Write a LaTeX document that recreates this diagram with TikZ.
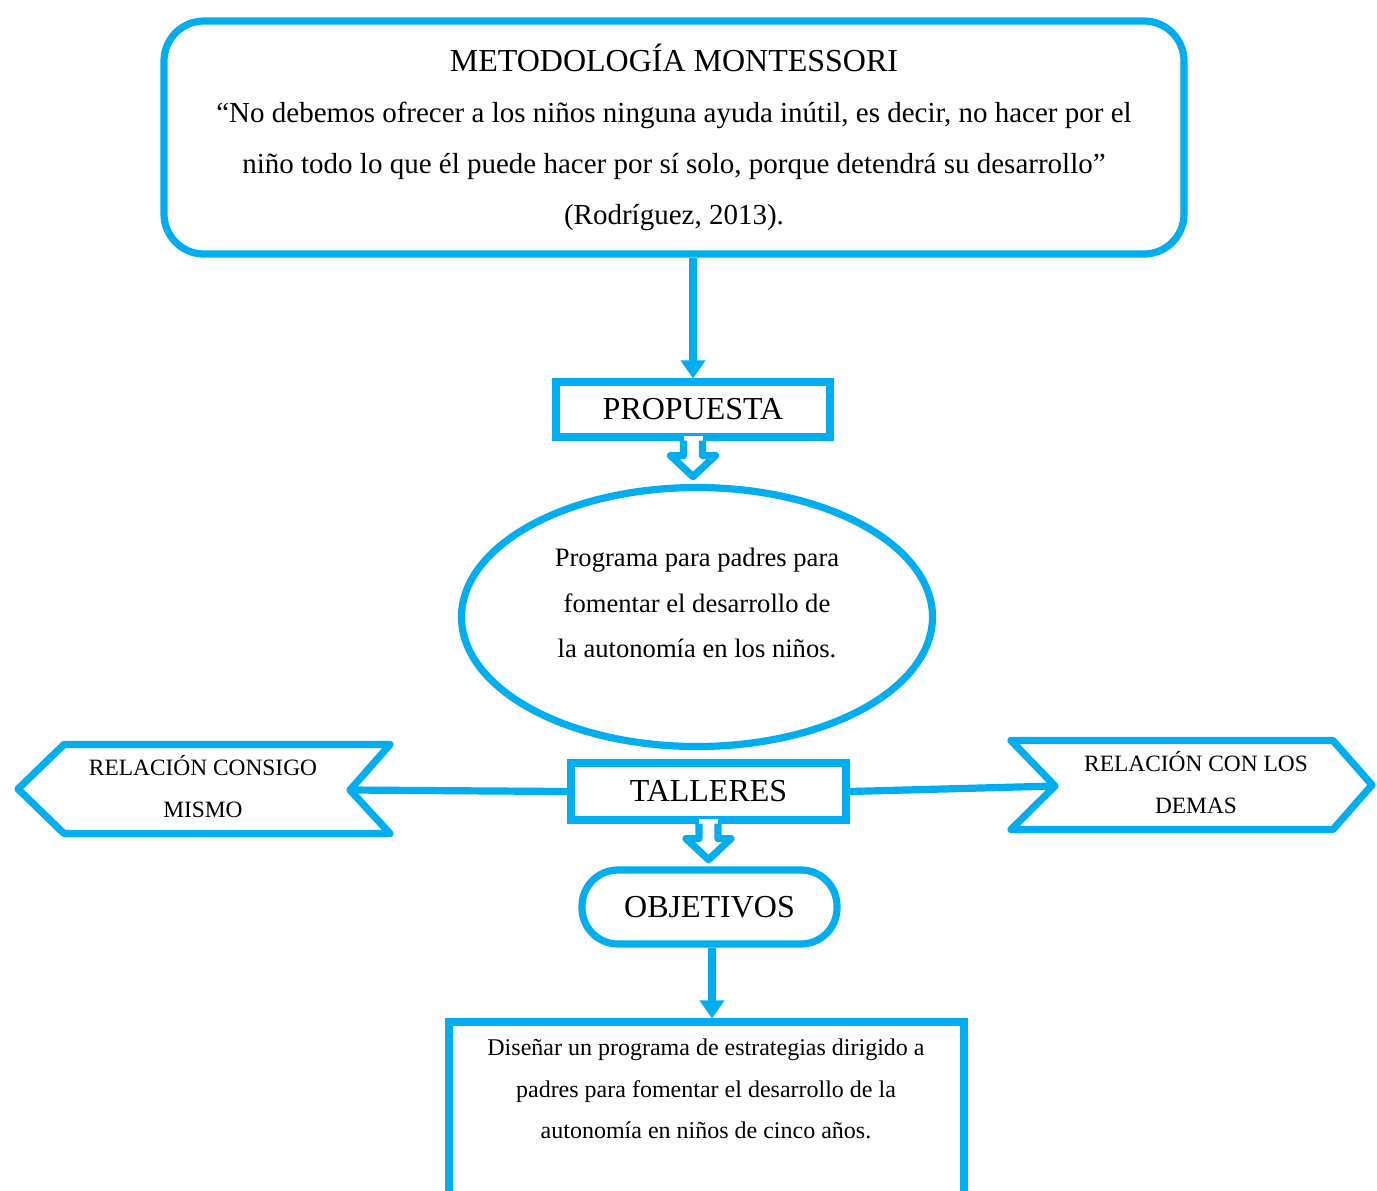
\documentclass[tikz,border=0pt]{standalone}
\usepackage{fontspec}
\setmainfont{Liberation Serif}
\usetikzlibrary{calc,arrows.meta,shapes.geometric}
\definecolor{cy}{HTML}{00AEEF}
\begin{document}
\begin{tikzpicture}[x=0.5pt,y=-0.5pt,
  line/.style={draw=cy,line width=3.6pt},
  box/.style={line,rectangle,inner sep=0pt},
  arr/.style={line,-{Triangle[width=12pt,length=9pt]}},
  notch/.style={line,line join=round}
]
\useasboundingbox (0,0) rectangle (1377,1190);
\clip (0,0) rectangle (1377,1190);

% top box
\node[box,rounded corners=20pt,minimum width=510pt,minimum height=116.5pt,align=center,
  font=\fontsize{14.5}{25.5}\selectfont] (top) at (674,137.5)
  {\fontsize{16}{25.5}\selectfont METODOLOGÍA MONTESSORI\\
   \fontsize{14.5}{25.5}\selectfont “No debemos ofrecer a los niños ninguna ayuda inútil, es decir, no hacer por el\\
   niño todo lo que él puede hacer por sí solo, porque detendrá su desarrollo”\\
   (Rodríguez, 2013).};

% propuesta
\node[box,minimum width=137pt,minimum height=27.5pt,font=\fontsize{16}{19}\selectfont] (prop) at (693,409.5) {PROPUESTA};
\draw[arr] (top.south -| prop.north) -- (prop.north);

\fill[white] ($(prop.south)+(-9.5,-4.5)$) rectangle ($(prop.south)+(9.5,4.5)$);
\draw[notch] ($(prop.south)+(-9.5,0)$) -- ++(0,15) -- ++(-13,0) -- ++(22.5,21) -- ++(22.5,-21) -- ++(-13,0) -- ++(0,-15);

% ellipse
\node[line,ellipse,minimum width=235.5pt,minimum height=129.5pt,inner sep=0pt] (prog) at (697,617) {};
\node[align=center,font=\fontsize{13.3}{22.75}\selectfont] (progtxt) at (697,603)
  {Programa para padres para\\fomentar el desarrollo de\\la autonomía en los niños.};

% talleres
\node[box,minimum width=137.5pt,minimum height=28.5pt,font=\fontsize{16}{19}\selectfont] (tall) at (708.5,791.5) {TALLERES};
\fill[white] ($(tall.south)+(-9.5,-4.5)$) rectangle ($(tall.south)+(9.5,4.5)$);
\draw[notch] ($(tall.south)+(-9.5,0)$) -- ++(0,15) -- ++(-13,0) -- ++(22.5,21) -- ++(22.5,-21) -- ++(-13,0) -- ++(0,-15);

% left shape
\coordinate (lnotch) at (350,790);
\draw[notch] (18,789) -- (64,744.5) -- (390,744.5) -- (lnotch) -- (390,833.5) -- (64,833.5) -- cycle;
\node[align=center,font=\fontsize{11.7}{21}\selectfont] (lt) at (203,787) {RELACIÓN CONSIGO\\MISMO};
\draw[line] (tall.west) -- (lnotch);

% right shape
\coordinate (rnotch) at (1055,786);
\draw[notch] (1011,740.5) -- (rnotch) -- (1011,829.5) -- (1333,829.5) -- (1372,785) -- (1333,740.5) -- cycle;
\node[align=center,font=\fontsize{11.7}{21}\selectfont] (rt) at (1196,783) {RELACIÓN CON LOS\\DEMAS};
\draw[line] (tall.east) -- (rnotch);

% objetivos
\node[box,rounded corners=18pt,minimum width=127.5pt,minimum height=37pt,font=\fontsize{16}{19}\selectfont] (obj) at (709.5,907) {OBJETIVOS};

% bottom box
\node[box,minimum width=257.5pt,minimum height=104pt] (bot) at (706.5,1126) {};
\node[align=center,font=\fontsize{12}{20.75}\selectfont] (bottxt) at (706,1089)
  {Diseñar un programa de estrategias dirigido a\\padres para fomentar el desarrollo de la\\autonomía en niños de cinco años.};
\draw[arr] ([xshift=1.25pt]obj.south) -- ([xshift=1.25pt]obj.south |- bot.north);
\end{tikzpicture}
\end{document}
